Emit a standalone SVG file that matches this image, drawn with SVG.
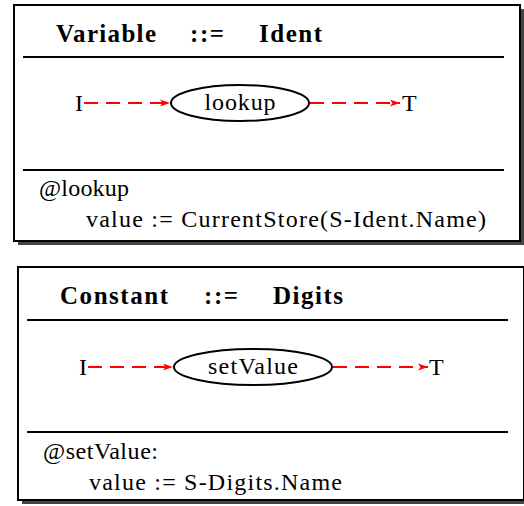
<svg xmlns="http://www.w3.org/2000/svg" width="524" height="506" viewBox="0 0 524 506">
<style>
.frame{fill:#fff;stroke:#000;stroke-width:2}
.shadow{fill:#444;stroke:none}
.sep{stroke:#000;stroke-width:2}
.node{fill:#fff;stroke:#000;stroke-width:2}
.t{font-family:"Liberation Serif","DejaVu Serif",serif;font-size:24px;fill:#000}
.t.b{font-weight:bold;font-size:25px}
.edge{stroke:#ff0000;stroke-width:2;stroke-dasharray:14,8;fill:none}
</style>
<defs>
<marker id="ah" markerUnits="userSpaceOnUse" markerWidth="12" markerHeight="10" refX="11" refY="5" orient="auto">
<path d="M1,1.5 L11,5 L1,8.5 L3.5,5 Z" fill="#ff0000"/>
</marker>
</defs>
<g id="box-variable">
<rect class="shadow" x="18" y="9" width="506" height="236"/>
<rect class="frame" x="14" y="5" width="506" height="236"/>
<text class="t b" x="56" y="42" textLength="100" lengthAdjust="spacing">Variable</text>
<text class="t b" x="190" y="42" textLength="34" lengthAdjust="spacing">::=</text>
<text class="t b" x="259" y="42" textLength="63" lengthAdjust="spacing">Ident</text>
<line class="sep" x1="23" y1="57" x2="504" y2="57"/>
<line class="sep" x1="23" y1="170" x2="504" y2="170"/>
<text class="t" x="39" y="196" textLength="90" lengthAdjust="spacing">@lookup</text>
<text class="t" x="86" y="227" textLength="400" lengthAdjust="spacing">value := CurrentStore(S-Ident.Name)</text>
</g>
<g id="box-constant">
<rect class="shadow" x="22" y="271" width="506" height="233"/>
<rect class="frame" x="18" y="267" width="506" height="233"/>
<text class="t b" x="60" y="304" textLength="108" lengthAdjust="spacing">Constant</text>
<text class="t b" x="204" y="304" textLength="34" lengthAdjust="spacing">::=</text>
<text class="t b" x="273" y="304" textLength="70" lengthAdjust="spacing">Digits</text>
<line class="sep" x1="27" y1="320" x2="508" y2="320"/>
<line class="sep" x1="27" y1="432" x2="508" y2="432"/>
<text class="t" x="43" y="459" textLength="115" lengthAdjust="spacing">@setValue:</text>
<text class="t" x="89" y="490" textLength="253" lengthAdjust="spacing">value := S-Digits.Name</text>
</g>
<g id="v-I"><text class="t" x="75" y="111">I</text></g>
<g id="v-lookup"><ellipse class="node" cx="240" cy="103" rx="69" ry="18"/><text class="t" x="240" y="110" text-anchor="middle" textLength="71" lengthAdjust="spacing">lookup</text></g>
<g id="v-T"><text class="t" x="402" y="111">T</text></g>
<g id="c-I"><text class="t" x="79" y="375">I</text></g>
<g id="c-setValue"><ellipse class="node" cx="253" cy="367" rx="79" ry="18"/><text class="t" x="253" y="374" text-anchor="middle" textLength="90" lengthAdjust="spacing">setValue</text></g>
<g id="c-T"><text class="t" x="429" y="375">T</text></g>
<g id="connectors">
<line class="edge" x1="84" y1="103" x2="170" y2="103" marker-end="url(#ah)"/>
<line class="edge" x1="310" y1="103" x2="400" y2="103" marker-end="url(#ah)"/>
<line class="edge" x1="88" y1="367" x2="173" y2="367" marker-end="url(#ah)"/>
<line class="edge" x1="333" y1="367" x2="428" y2="367" marker-end="url(#ah)"/>
</g>
</svg>
